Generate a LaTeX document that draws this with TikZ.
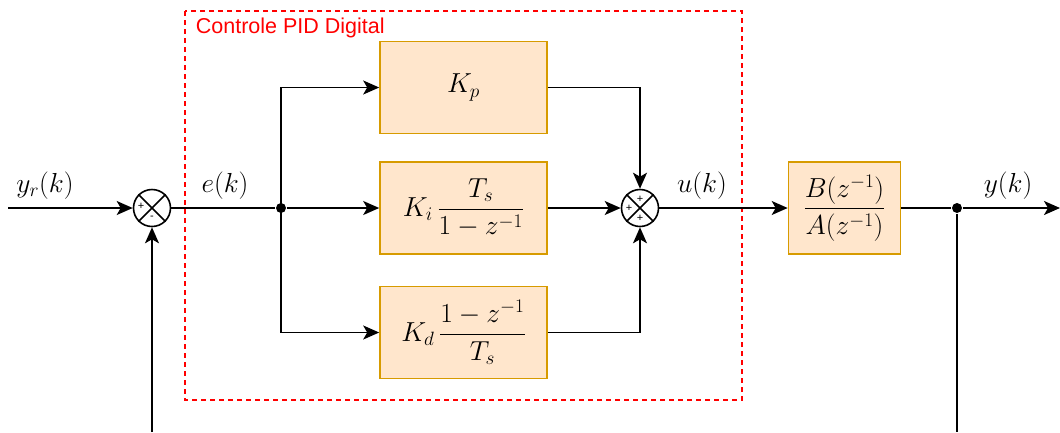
\RequirePackage{fix-cm}
\documentclass[tikz,border=0pt]{standalone}
\usepackage{amsmath}
\usepackage{fontspec}
\setmainfont{Liberation Sans}
\usetikzlibrary{arrows.meta}
\definecolor{blkfill}{HTML}{FFE6CC}
\definecolor{blkline}{HTML}{D79B00}
\newcommand{\mathsz}{\fontsize{27.5}{32}\selectfont}
\begin{document}
\begin{tikzpicture}[x=1pt,y=-1pt,line width=1.8pt,
  blk/.style={draw=blkline, fill=blkfill, line width=1.6pt, minimum width=167pt,
    minimum height=92pt, inner sep=0pt, font=\mathsz},
  sumc/.style={circle, draw, line width=1.6pt, minimum size=37pt, inner sep=0pt},
  dot/.style={circle, fill, inner sep=0pt, minimum size=10pt},
  arr/.style={-{Stealth[length=16pt,width=14pt,inset=4pt]}},
  sig/.style={font=\fontsize{11}{11}\selectfont, inner sep=0pt},
  lbl/.style={font=\mathsz, anchor=base, inner sep=0pt}]
\useasboundingbox (0,0) rectangle (1060,432);

% controller frame
\draw[red, dashed, dash pattern=on 5pt off 4pt, line width=1.5pt] (185,11) rectangle (742,400);
\node[red, anchor=base west, inner sep=0pt, font=\fontsize{21.5}{24}\selectfont] (title) at (195,33) {Controle PID Digital};

% blocks
\node[blk] (kp) at (463.5,87.5) {$K_p$};
\node[blk] (ki) at (463.5,208) {$K_i\,\dfrac{T_s}{1-z^{-1}}$};
\node[blk] (kd) at (463.5,332.5) {$K_d\,\dfrac{1-z^{-1}}{T_s}$};
\node[blk, minimum width=112pt] (plant) at (844.5,208) {$\dfrac{B(z^{-1})}{A(z^{-1})}$};

% summing junctions
\node[sumc] (s1) at (152,208) {};
\draw[line width=1.6pt] (s1.north west) -- (s1.south east) (s1.north east) -- (s1.south west);
\node[sig] (s1a) at ([shift={(-11,-2)}]s1.center) {+};
\node[sig] (s1b) at ([shift={(0,10)}]s1.center) {-};

\node[sumc] (s2) at (640,208) {};
\draw[line width=1.6pt] (s2.north west) -- (s2.south east) (s2.north east) -- (s2.south west);
\node[sig] (s2a) at ([shift={(-11,0)}]s2.center) {+};
\node[sig] (s2b) at ([shift={(0,-9)}]s2.center) {+};
\node[sig] (s2c) at ([shift={(0,10)}]s2.center) {+};

% branch points and free ends
\node[dot] (j1) at (281,208) {};
\node[dot] (j2) at (957,208) {};
\coordinate (in) at (8,208);
\coordinate (out) at (1060,208);
\coordinate (fbr) at (957,432);
\coordinate (fbl) at (152,432);

% signal lines
\draw[arr] (in) -- (s1.west);
\draw (s1.east) -- (j1);
\draw[arr] (j1.center) |- (kp.west);
\draw[arr] (j1) -- (ki.west);
\draw[arr] (j1.center) |- (kd.west);
\draw[arr] (kp.east) -| (s2.north);
\draw[arr] (ki.east) -- (s2.west);
\draw[arr] (kd.east) -| (s2.south);
\draw[arr] (s2.east) -- (plant.west);
\draw (plant.east) -- (j2);
\draw[arr] (j2) -- (out);
\draw (j2) -- (fbr);
\draw[arr] (fbl) -- (s1.south);

% signal labels
\node[lbl] (lyr) at (45,192) {$y_r(k)$};
\node[lbl] (le) at (225,192) {$e(k)$};
\node[lbl] (lu) at (702,192) {$u(k)$};
\node[lbl] (ly) at (1008,192) {$y(k)$};
\end{tikzpicture}
\end{document}
